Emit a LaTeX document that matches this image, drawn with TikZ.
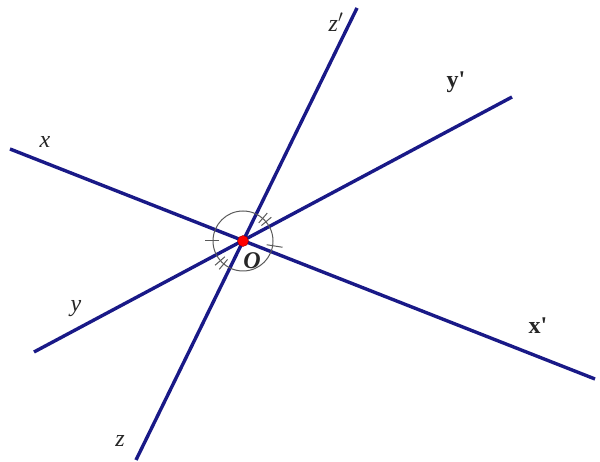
\documentclass[tikz,border=0pt]{standalone}
\usepackage{fontspec}
\setmainfont{Liberation Serif}
\usetikzlibrary{calc}
\begin{document}
\begin{tikzpicture}[x=1pt,y=1pt,
  axis/.style={draw={rgb,255:red,25;green,25;blue,135},line width=3.4pt},
  lbl/.style={font=\fontsize{24}{26}\selectfont,text=black!85,inner sep=0pt},
  arcline/.style={draw=black!65,line width=1pt},
  tick/.style={draw=black!65,line width=1pt}]
\useasboundingbox (0,0) rectangle (600,462);
\coordinate (O) at (243,221);
\coordinate (X) at (10,313);
\coordinate (Xp) at (595,83);
\coordinate (Y) at (34,110);
\coordinate (Yp) at (512,365);
\coordinate (Z) at (136,2);
\coordinate (Zp) at (357,454);
\draw[axis] (X) -- (Xp);
\draw[axis] (Y) -- (Yp);
\draw[axis] (Z) -- (Zp);
\draw[arcline] (O) circle[radius=30];
% single ticks
\draw[tick] ($(O)+(180:24)$) -- ($(O)+(180:38)$);
\draw[tick] ($(O)+(-9:24)$) -- ($(O)+(-9:40)$);
% double ticks
\foreach \a in {40,49} {\draw[tick] ($(O)+(\a:24)$) -- ($(O)+(\a:37)$);}
\foreach \a in {221,230} {\draw[tick] ($(O)+(\a:24)$) -- ($(O)+(\a:37)$);}
\fill[red] (O) circle[radius=5.5];
\draw[red!60!black,line width=0.4pt] (O) circle[radius=5.5];
\node[lbl] (lx) at (45,320) {\itshape x};
\node[lbl] (ly) at (76,153) {\itshape y};
\node[lbl] (lz) at (120,21) {\itshape z};
\node[lbl] (lzp) at (336,440) {\itshape z$'$};
\node[lbl] (lyp) at (456,380) {\bfseries y\textquotesingle};
\node[lbl] (lxp) at (538,136) {\bfseries x\textquotesingle};
\node[lbl] (lO) at (252,201) {\bfseries\itshape O};
\end{tikzpicture}
\end{document}
